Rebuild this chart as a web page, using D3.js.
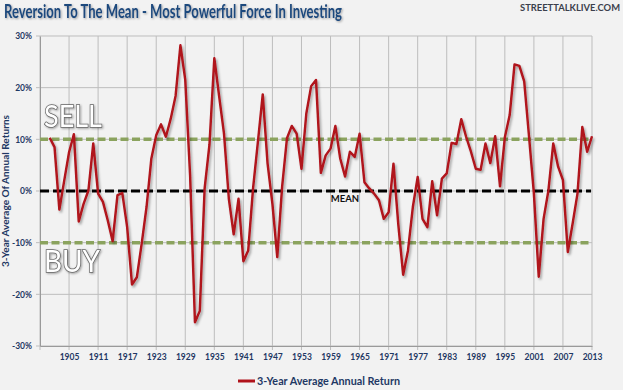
<!DOCTYPE html>
<html>
<head>
<meta charset="utf-8">
<script src="https://cdn.jsdelivr.net/npm/d3@7"></script>
<style>
  body { margin: 0; background: #f2f2f2; }
  svg { display: block; font-family: "Lato", "Open Sans", sans-serif; }
</style>
</head>
<body>
<div id="chart"></div>
<script>
// 3-year average annual return, one value per year from 1901 to 2013
var firstYear = 1901;
var returns = [
    10.3, 8.5, -3.6, 2.0, 7.5, 11.0, -5.9, -2.5, 0.1, 9.2,
    -0.5, -2.1, -5.7, -9.7, -0.8, -0.4, -7.0, -18.1, -16.7, -10.2,
    -3.1, 6.3, 10.8, 12.9, 10.5, 14.0, 18.4, 28.2, 21.5, 3.0,
    -25.4, -23.2, 0.5, 9.0, 25.7, 18.3, 11.1, -1.5, -8.4, -1.5,
    -13.6, -11.5, 0.5, 9.5, 18.7, 5.3, -2.5, -12.8, 0.8, 10.2,
    12.6, 11.1, 4.3, 15.0, 20.3, 21.5, 3.5, 6.9, 8.2, 12.6,
    6.3, 2.8, 7.6, 6.6, 11.1, 1.7, 0.5, -0.5, -1.8, -5.4,
    -4.1, 5.3, -6.5, -16.2, -11.5, -3.1, 2.7, -5.4, -7.0, 1.9,
    -4.7, 2.4, 3.4, 9.3, 9.1, 13.9, 10.5, 7.6, 4.3, 4.1,
    9.2, 5.4, 10.6, 0.9, 10.4, 14.7, 24.5, 24.2, 21.2, 10.5,
    -0.5, -16.6, -5.4, 0.1, 9.2, 4.7, 2.1, -11.8, -6.3, -0.5,
    12.4, 7.6, 10.6
];
var years = d3.range(firstYear, firstYear + returns.length);

var gridYears = [1899, 1905, 1911, 1917, 1923, 1929, 1935, 1941, 1947, 1953,
    1959, 1965, 1971, 1977, 1983, 1989, 1995, 2001, 2007, 2013];
var yTicks = [-30, -20, -10, 0, 10, 20, 30];
var sellLevel = 10, buyLevel = -10, meanLevel = 0;

var svgWidth = 623;
var svgHeight = 390;
var margin = { top: 36, bottom: 44, right: 31, left: 40 };
var width = svgWidth - margin.left - margin.right;
var height = svgHeight - margin.top - margin.bottom;

var navy = "#1f3864";

var svg = d3.select("#chart")
    .append("svg")
    .attr("width", svgWidth)
    .attr("height", svgHeight);

svg.append("rect")
    .attr("width", svgWidth)
    .attr("height", svgHeight)
    .attr("fill", "#f2f2f2");

var defs = svg.append("defs");
var shadow = defs.append("filter").attr("id", "shadow")
    .attr("x", "-5%").attr("y", "-5%").attr("width", "110%").attr("height", "110%");
shadow.append("feDropShadow")
    .attr("dx", 1.5).attr("dy", 2)
    .attr("stdDeviation", 1.3)
    .attr("flood-color", "#000")
    .attr("flood-opacity", 0.35);

var textShadow = defs.append("filter").attr("id", "tshadow");
textShadow.append("feDropShadow")
    .attr("dx", 1).attr("dy", 1)
    .attr("stdDeviation", 0.8)
    .attr("flood-color", "#000")
    .attr("flood-opacity", 0.35);

var chartGroup = svg.append("g")
    .attr("transform", `translate(${margin.left}, ${margin.top})`);

var xScale = d3.scaleLinear()
    .domain([1899, 2013])
    .range([0, width]);

var yScale = d3.scaleLinear()
    .domain([-30, 30])
    .range([height, 0]);

// gridlines
chartGroup.append("g")
    .selectAll("line")
    .data(gridYears)
    .enter()
    .append("line")
    .attr("x1", d => xScale(d))
    .attr("x2", d => xScale(d))
    .attr("y1", 0)
    .attr("y2", height + 4)
    .attr("stroke", "#bdbdbd")
    .attr("stroke-width", 1);

chartGroup.append("g")
    .selectAll("line")
    .data(yTicks)
    .enter()
    .append("line")
    .attr("x1", -4)
    .attr("x2", width)
    .attr("y1", d => yScale(d))
    .attr("y2", d => yScale(d))
    .attr("stroke", "#bdbdbd")
    .attr("stroke-width", 1);

// axes
var bottomAxis = d3.axisBottom(xScale)
    .tickValues(gridYears.slice(1))
    .tickFormat(d3.format("d"))
    .tickSize(0)
    .tickPadding(8);

var leftAxis = d3.axisLeft(yScale)
    .tickValues(yTicks)
    .tickFormat(d => d + "%")
    .tickSize(0)
    .tickPadding(8);

var xAxisG = chartGroup.append("g")
    .attr("transform", `translate(0, ${height})`)
    .call(bottomAxis);

var yAxisG = chartGroup.append("g")
    .call(leftAxis);

[xAxisG, yAxisG].forEach(function(g) {
    g.select(".domain").attr("stroke", "#9a9a9a");
    g.selectAll("text")
        .attr("fill", navy)
        .style("font-size", "8.5px")
        .style("font-weight", "bold")
        .style("font-family", "Lato, sans-serif");
});

// reference lines
chartGroup.selectAll(".band")
    .data([sellLevel, buyLevel])
    .enter()
    .append("line")
    .attr("x1", 0)
    .attr("x2", width - 1)
    .attr("y1", d => yScale(d))
    .attr("y2", d => yScale(d))
    .attr("stroke", "#8ba35e")
    .attr("stroke-width", 3.5)
    .attr("stroke-dasharray", "8,3.5");

chartGroup.append("line")
    .attr("x1", 0)
    .attr("x2", width - 1)
    .attr("y1", yScale(meanLevel))
    .attr("y2", yScale(meanLevel))
    .attr("stroke", "#000")
    .attr("stroke-width", 3)
    .attr("stroke-dasharray", "9,4");

// series line
var line = d3.line()
    .x((d, i) => xScale(years[i]))
    .y(d => yScale(d));

chartGroup.append("path")
    .datum(returns)
    .attr("d", line)
    .attr("fill", "none")
    .attr("stroke", "#b0121a")
    .attr("stroke-width", 2.4)
    .attr("stroke-linejoin", "round")
    .attr("filter", "url(#shadow)");

// labels on the chart
chartGroup.append("text")
    .attr("x", 305)
    .attr("y", yScale(meanLevel) + 11)
    .attr("text-anchor", "middle")
    .style("font-size", "9.5px")
    .style("font-weight", "bold")
    .attr("fill", "#111")
    .text("MEAN");

chartGroup.selectAll(".big")
    .data([
        { label: "SELL", level: sellLevel, dy: -12 },
        { label: "BUY", level: buyLevel, dy: 29 }
    ])
    .enter()
    .append("text")
    .attr("x", 4)
    .attr("y", d => yScale(d.level) + d.dy)
    .attr("textLength", d => d.label === "SELL" ? 58 : 56)
    .attr("lengthAdjust", "spacingAndGlyphs")
    .style("font-size", "30px")
    .style("font-family", "Lato, sans-serif")
    .attr("fill", "#fff")
    .attr("stroke", "#666")
    .attr("stroke-width", 1.6)
    .attr("paint-order", "stroke")
    .attr("filter", "url(#tshadow)")
    .text(d => d.label);

// y axis title
svg.append("text")
    .attr("transform", `translate(9, ${margin.top + height / 2}) rotate(-90)`)
    .attr("text-anchor", "middle")
    .attr("textLength", 152)
    .attr("lengthAdjust", "spacingAndGlyphs")
    .style("font-size", "8.5px")
    .style("font-weight", "bold")
    .attr("fill", navy)
    .text("3-Year Average Of Annual Returns");

// title and source
svg.append("text")
    .attr("x", 4)
    .attr("y", 18)
    .attr("textLength", 338)
    .attr("lengthAdjust", "spacingAndGlyphs")
    .style("font-size", "18px")
    .style("font-weight", "bold")
    .attr("fill", "#1f497d")
    .attr("filter", "url(#tshadow)")
    .text("Reversion To The Mean - Most Powerful Force In Investing");

svg.append("text")
    .attr("x", 620)
    .attr("y", 11)
    .attr("text-anchor", "end")
    .attr("textLength", 100)
    .attr("lengthAdjust", "spacingAndGlyphs")
    .style("font-size", "9.5px")
    .style("font-weight", "bold")
    .attr("fill", "#3b3f4c")
    .text("STREETTALKLIVE.COM");

// legend
var legend = svg.append("g")
    .attr("transform", "translate(238, 381)");

legend.append("line")
    .attr("x1", 0)
    .attr("x2", 17)
    .attr("stroke", "#b0121a")
    .attr("stroke-width", 3);

legend.append("text")
    .attr("x", 19)
    .attr("y", 4)
    .attr("textLength", 143)
    .attr("lengthAdjust", "spacingAndGlyphs")
    .style("font-size", "11px")
    .style("font-weight", "bold")
    .attr("fill", navy)
    .text("3-Year Average Annual Return");
</script>
</body>
</html>
